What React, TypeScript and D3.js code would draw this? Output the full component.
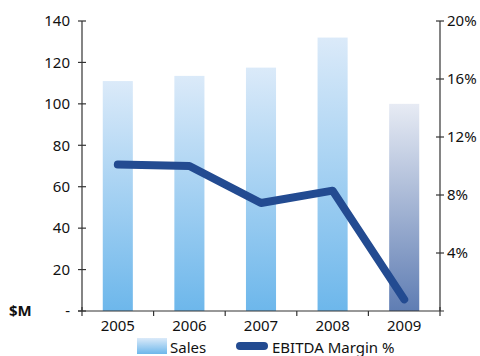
import React from 'react';
import * as d3 from 'd3';

const years = ['2005', '2006', '2007', '2008', '2009'];
const sales = [111, 113.5, 117.5, 132, 100];
const margin = [10.1, 10.0, 7.45, 8.3, 0.8];
const salesTicks = [0, 20, 40, 60, 80, 100, 120, 140];
const marginTicks = [4, 8, 12, 16, 20];

const W = 480;
const H = 356;
const left = 82;
const right = 440;
const top = 21;
const bottom = 311;
const font = '"Noto Sans", "Open Sans", sans-serif';

const App = () => {
    const x = d3.scaleBand().domain(years).range([left, right]).paddingInner(0.58).paddingOuter(0.29);
    const yL = d3.scaleLinear().domain([0, 140]).range([bottom, top]);
    const yR = d3.scaleLinear().domain([0, 20]).range([bottom, top]);

    const line = d3.line<number>()
        .x((d, i) => (x(years[i]) as number) + x.bandwidth() / 2)
        .y(d => yR(d));

    // band boundaries for the x ticks
    const step = x.step();
    const bounds = d3.range(years.length + 1).map(i => left + i * step);

    return (
        <svg width={W} height={H} style={{ position: 'absolute', left: 0, top: 0 }}>
            <defs>
                <linearGradient id="gBlue" x1="0" y1="0" x2="0" y2="1">
                    <stop offset="0%" stopColor="#dbeaf9" />
                    <stop offset="100%" stopColor="#6db7eb" />
                </linearGradient>
                <linearGradient id="gGrey" x1="0" y1="0" x2="0" y2="1">
                    <stop offset="0%" stopColor="#e7ebf4" />
                    <stop offset="100%" stopColor="#5f7db3" />
                </linearGradient>
            </defs>

            {sales.map((v, i) => (
                <rect key={years[i]}
                    x={x(years[i])}
                    y={yL(v)}
                    width={x.bandwidth()}
                    height={bottom - yL(v)}
                    fill={i === years.length - 1 ? 'url(#gGrey)' : 'url(#gBlue)'} />
            ))}

            <path d={line(margin) || ''} fill="none" stroke="#234b91" strokeWidth={8}
                strokeLinecap="round" strokeLinejoin="round" />

            {/* axes */}
            <g stroke="#333" strokeWidth={1.2}>
                <line x1={left} x2={left} y1={top} y2={bottom} />
                {salesTicks.map(t => (
                    <line key={t} x1={left - 4} x2={left + 4} y1={yL(t)} y2={yL(t)} />
                ))}
                <line x1={right} x2={right} y1={top} y2={bottom} />
                {marginTicks.map(t => (
                    <line key={t} x1={right - 4} x2={right + 4} y1={yR(t)} y2={yR(t)} />
                ))}
                <line x1={left - 4} x2={right + 4} y1={bottom} y2={bottom} />
                {bounds.map((b, i) => (
                    <line key={i} x1={b} x2={b} y1={bottom - (i === 0 || i === years.length ? 4 : 0)} y2={bottom + 5} />
                ))}
            </g>

            <g fontFamily={font} fontSize={15} fill="#111">
                {salesTicks.map(t => (
                    <text key={t} x={left - 12} y={yL(t)} dy="0.35em" textAnchor="end">
                        {t === 0 ? '-' : t}
                    </text>
                ))}
                {marginTicks.map(t => (
                    <text key={t} x={right + 7} y={yR(t)} dy="0.35em">{t + '%'}</text>
                ))}
                {years.map(y => (
                    <text key={y} x={(x(y) as number) + x.bandwidth() / 2} y={bottom + 20} textAnchor="middle">{y}</text>
                ))}
                <text x={9} y={bottom} dy="0.35em" fontWeight="bold">$M</text>

                <rect x={137} y={338} width={30} height={16} fill="url(#gBlue)" />
                <text x={170} y={353}>Sales</text>
                <line x1={240} x2={264} y1={346} y2={346} stroke="#234b91" strokeWidth={8} strokeLinecap="round" />
                <text x={272} y={353}>EBITDA Margin %</text>
            </g>
        </svg>
    );
};

export default App;
